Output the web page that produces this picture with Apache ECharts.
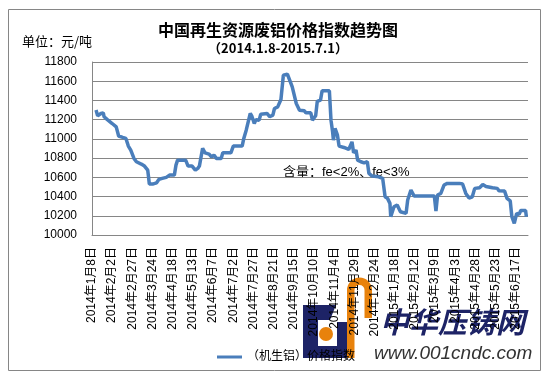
<!DOCTYPE html>
<html>
<head>
<meta charset="utf-8">
<script src="https://cdn.jsdelivr.net/npm/echarts@6/dist/echarts.min.js"></script>
<style>
  html, body { margin: 0; padding: 0; background: #fff; }
  #chart { width: 551px; height: 378px; }
</style>
</head>
<body>
<div id="chart"></div>
<script>
// x tick labels, one every 25 days from 2014-01-08
const xLabels = [
  '2014年1月8日', '2014年2月2日', '2014年2月27日', '2014年3月24日', '2014年4月18日',
  '2014年5月13日', '2014年6月7日', '2014年7月2日', '2014年7月27日', '2014年8月21日',
  '2014年9月15日', '2014年10月10日', '2014年11月4日', '2014年11月29日', '2014年12月24日',
  '2015年1月18日', '2015年2月12日', '2015年3月9日', '2015年4月3日', '2015年4月28日',
  '2015年5月23日', '2015年6月17日'
]

// days since 2014-01-08
const dayOffsets = [
  5, 7, 11, 14, 15, 19, 25, 30, 33, 38, 42, 45, 48, 52, 55, 61, 65, 69, 70, 71,
  75, 80, 83, 87, 92, 96, 102, 104, 106, 116, 119, 124, 128, 131, 133, 137, 140, 145, 148, 151,
  154, 160, 162, 172, 175, 186, 188, 191, 193, 196, 198, 201, 203, 207, 209, 217, 220, 224, 226, 230,
  234, 237, 242, 248, 253, 257, 263, 265, 271, 273, 277, 279, 283, 285, 294, 296, 298, 299, 301, 304,
  306, 312, 318, 322, 324, 327, 329, 333, 337, 341, 343, 347, 355, 360, 363, 366, 369, 370, 374, 378,
  382, 389, 391, 395, 399, 424, 426, 428, 432, 436, 440, 455, 459, 463, 467, 471, 474, 480, 484, 488,
  496, 502, 504, 511, 514, 518, 520, 523, 526, 529, 531, 537, 538
]

// 元/吨
const prices = [
  11300, 11240, 11264, 11270, 11230, 11200, 11160, 11125, 11030, 11015, 11005, 10925, 10883, 10797, 10762, 10738, 10717, 10675, 10606, 10530,
  10530, 10543, 10579, 10589, 10600, 10623, 10623, 10727, 10779, 10779, 10717, 10717, 10675, 10693, 10717, 10901, 10855, 10842, 10813, 10831,
  10797, 10797, 10855, 10855, 10925, 10925, 11005, 11091, 11109, 11264, 11236, 11160, 11200, 11195, 11257, 11264, 11230, 11247, 11316, 11333,
  11410, 11662, 11673, 11541, 11368, 11299, 11292, 11271, 11271, 11195, 11240, 11390, 11403, 11500, 11500, 11195, 11073, 10987, 11109, 11039,
  10925, 10911, 10890, 10969, 10855, 10883, 10779, 10762, 10751, 10762, 10641, 10613, 10606, 10589, 10398, 10381, 10329, 10190, 10294, 10312,
  10242, 10225, 10364, 10468, 10405, 10405, 10250, 10416, 10433, 10520, 10537, 10537, 10530, 10433, 10385, 10398, 10485, 10491, 10525, 10505,
  10491, 10485, 10460, 10457, 10381, 10355, 10190, 10122, 10225, 10215, 10255, 10255, 10190
]

const seriesName = '（机生铝）价格指数'

const chart = echarts.init(document.getElementById('chart'), null, { renderer: 'canvas' })

const navy = '#1d2366'
const orange = '#e8820c'
const cjk = '"Liberation Sans", "Noto Sans CJK SC", sans-serif'

const option = {
  animation: false,
  backgroundColor: '#fff',
  title: {
    text: '中国再生资源废铝价格指数趋势图',
    subtext: '（2014.1.8-2015.7.1）',
    left: 273,
    textAlign: 'center',
    top: 17,
    itemGap: 4,
    textStyle: {
      fontFamily: '"Noto Sans CJK SC", sans-serif',
      fontSize: 16,
      fontWeight: 'bold',
      color: '#000'
    },
    subtextStyle: {
      fontFamily: '"Noto Sans CJK SC", sans-serif',
      fontSize: 13,
      fontWeight: 'bold',
      color: '#000'
    }
  },
  legend: {
    left: 212,
    top: 346,
    itemWidth: 25,
    itemHeight: 14,
    itemGap: 5,
    data: [{ name: seriesName, icon: 'path://M0,0 L25,0 L25,3 L0,3 Z' }],
    textStyle: {
      fontFamily: cjk,
      fontSize: 12,
      color: '#000'
    }
  },
  grid: {
    left: 92,
    right: 23,
    top: 62,
    bottom: 143,
    containLabel: false,
    outerBoundsMode: 'none'
  },
  xAxis: {
    type: 'value',
    min: 0,
    max: 540,
    interval: 25,
    axisLine: { show: true, lineStyle: { color: '#868686', width: 1 } },
    axisTick: { show: false },
    splitLine: { show: false },
    axisLabel: {
      rotate: 90,
      margin: 12,
      showMaxLabel: false,
      fontFamily: cjk,
      fontSize: 12,
      color: '#000',
      formatter: (v) => xLabels[v / 25] || ''
    }
  },
  yAxis: {
    type: 'value',
    min: 10000,
    max: 11800,
    interval: 200,
    axisLine: { show: true, lineStyle: { color: '#868686', width: 1 } },
    axisTick: { show: false },
    splitLine: { show: true, lineStyle: { color: '#868686', width: 1 } },
    axisLabel: {
      margin: 15,
      fontFamily: '"Liberation Sans", Arial, sans-serif',
      fontSize: 12,
      color: '#000',
      formatter: (v) => String(v)
    }
  },
  series: [
    {
      name: seriesName,
      type: 'line',
      symbol: 'none',
      smooth: false,
      lineStyle: { color: '#4a7ebb', width: 3.5 },
      itemStyle: { color: '#4a7ebb' },
      data: dayOffsets.map((d, i) => [d, prices[i]])
    }
  ],
  graphic: [
    {
      type: 'rect',
      shape: { x: 8.5, y: 9.5, width: 532, height: 361 },
      style: { fill: 'none', stroke: '#868686', lineWidth: 1 },
      silent: true
    },
    {
      type: 'text',
      left: 22,
      top: 35,
      style: {
        text: '单位：元/吨',
        font: '13px "Noto Sans CJK SC", sans-serif',
        fill: '#000'
      }
    },
    {
      type: 'text',
      left: 283,
      top: 166,
      style: {
        text: '含量：fe<2%、fe<3%',
        font: '13px "Liberation Sans", "Noto Sans CJK SC", sans-serif',
        fill: '#000'
      }
    },
    // watermark logo
    {
      type: 'group',
      silent: true,
      z: 100,
      children: [
        { type: 'rect', shape: { x: 303, y: 305, width: 15, height: 53 }, style: { fill: navy } },
        { type: 'polygon', shape: { points: [[303, 305], [336, 305], [330, 320], [303, 320]] }, style: { fill: navy } },
        { type: 'rect', shape: { x: 303, y: 346, width: 44, height: 12 }, style: { fill: navy } },
        { type: 'rect', shape: { x: 337, y: 322, width: 10, height: 36 }, style: { fill: navy } },
        { type: 'circle', shape: { cx: 326, cy: 334, r: 7 }, style: { fill: orange } },
        { type: 'sector', shape: { cx: 359.5, cy: 290, r: 12.5, r0: 5, startAngle: Math.PI, endAngle: Math.PI * 2 }, style: { fill: orange } },
        { type: 'rect', shape: { x: 347, y: 290, width: 7.5, height: 68 }, style: { fill: orange } },
        { type: 'rect', shape: { x: 364.5, y: 290, width: 7.5, height: 28 }, style: { fill: orange } },
        {
          type: 'text',
          x: 380,
          y: 307,
          style: {
            text: '中华压铸网',
            font: 'italic bold 29px "Noto Sans CJK SC", sans-serif',
            fill: navy
          }
        },
        {
          type: 'text',
          x: 374,
          y: 344,
          style: {
            text: 'www.001cndc.com',
            font: 'italic 19px "Liberation Sans", sans-serif',
            fill: '#333'
          }
        }
      ]
    }
  ]
}

chart.setOption(option)

window.addEventListener('resize', () => chart.resize())
</script>
</body>
</html>
